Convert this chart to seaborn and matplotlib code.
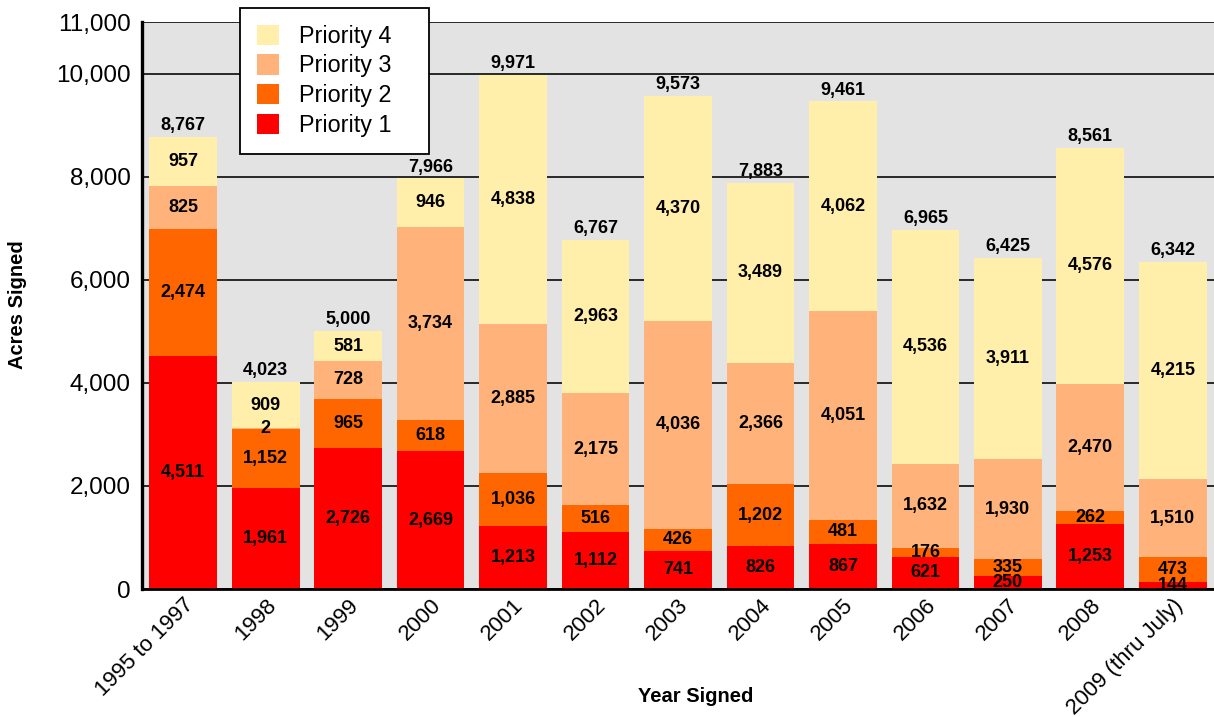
import numpy as np
import pandas as pd
import matplotlib
matplotlib.use("Agg")
import matplotlib.pyplot as plt
import seaborn as sns
from matplotlib.patches import Patch

categories = ["1995 to 1997", "1998", "1999", "2000", "2001", "2002", "2003",
              "2004", "2005", "2006", "2007", "2008", "2009 (thru July)"]
priority1 = [4511, 1961, 2726, 2669, 1213, 1112, 741, 826, 867, 621, 250, 1253, 144]
priority2 = [2474, 1152, 965, 618, 1036, 516, 426, 1202, 481, 176, 335, 262, 473]
priority3 = [825, 2, 728, 3734, 2885, 2175, 4036, 2366, 4051, 1632, 1930, 2470, 1510]
priority4 = [957, 909, 581, 946, 4838, 2963, 4370, 3489, 4062, 4536, 3911, 4576, 4215]
totals = [8767, 4023, 5000, 7966, 9971, 6767, 9573, 7883, 9461, 6965, 6425, 8561, 6342]
yticks = [0, 2000, 4000, 6000, 8000, 10000, 11000]

series_names = ["Priority 1", "Priority 2", "Priority 3", "Priority 4"]
series = [priority1, priority2, priority3, priority4]
colors = ["#FF0000", "#FF6600", "#FFB27A", "#FFEFAA"]

sns.set_theme(style="white")
plt.rcParams['font.family'] = ['Liberation Sans', 'DejaVu Sans']
plt.rcParams['text.color'] = 'black'
plt.rcParams['axes.labelcolor'] = 'black'
plt.rcParams['xtick.color'] = 'black'
plt.rcParams['ytick.color'] = 'black'

fig = plt.figure(figsize=(12.14, 7.17), dpi=100)
ax = fig.add_axes([142/1214, 1 - 589/717, 1 - 142/1214, (589 - 22)/717])
ax.set_facecolor("#E3E3E3")

arr = np.array(series, dtype=float)
cum = np.cumsum(arr, axis=0)

# draw cumulative bars from top layer to bottom so they stack visually
for i in range(3, -1, -1):
    df = pd.DataFrame({"cat": categories, "val": cum[i]})
    sns.barplot(data=df, x="cat", y="val", color=colors[i], width=0.82,
                saturation=1, ax=ax, zorder=2, linewidth=0, order=categories)

# segment labels
for i in range(4):
    bottoms = cum[i] - arr[i]
    for j in range(len(categories)):
        ax.text(j, bottoms[j] + arr[i][j] / 2, f"{series[i][j]:,}",
                ha="center", va="center", fontsize=13, fontweight="bold",
                color="black", zorder=5)

# totals
for j in range(len(categories)):
    ax.annotate(f"{totals[j]:,}", (j, cum[3][j]), xytext=(0, 2),
                textcoords="offset points", ha="center", va="bottom",
                fontsize=13, fontweight="bold", color="black", zorder=5)

ax.set_ylim(0, 11000)
ax.set_xlim(-0.5, len(categories) - 0.5)
ax.set_yticks(yticks)
ax.set_yticklabels([f"{v:,}" for v in yticks], fontsize=17.5, color="black")
ax.set_axisbelow(True)
for v in yticks:
    ax.axhline(v, color="#1a1a1a", lw=1.3, zorder=1)

ax.set_xticks(range(len(categories)))
ax.set_xticklabels(categories, rotation=45, ha="right", rotation_mode="anchor",
                   fontsize=16, color="black")
ax.tick_params(axis="x", length=0, pad=4)
ax.tick_params(axis="y", length=0, pad=8)

ax.set_xlabel("Year Signed", fontsize=14.5, fontweight="bold", color="black")
ax.xaxis.set_label_coords((696 - 142) / 1072, (589 - 697) / 567)
ax.xaxis.label.set_va("center")
ax.set_ylabel("Acres Signed", fontsize=14.5, fontweight="bold", color="black")
ax.yaxis.set_label_coords((18 - 142) / 1072, (589 - 305) / 567)
ax.yaxis.label.set_va("center")

for s in ["top", "right"]:
    ax.spines[s].set_visible(False)
ax.spines["left"].set_color("black")
ax.spines["left"].set_linewidth(2.4)
ax.spines["bottom"].set_color("black")
ax.spines["bottom"].set_linewidth(2.0)
ax.spines["left"].set_zorder(6)
ax.spines["bottom"].set_zorder(6)

handles = [Patch(facecolor=colors[i], edgecolor="none", label=series_names[i])
           for i in range(3, -1, -1)]
leg = ax.legend(handles=handles, loc="upper left",
                bbox_to_anchor=((240 - 142) / 1072, (589 - 8) / 567,
                                189 / 1072, 0),
                mode="expand",
                fontsize=16.8, frameon=True, fancybox=False, framealpha=1,
                edgecolor="black", handlelength=0.95, handleheight=0.95,
                labelspacing=0.28, borderpad=0.72, handletextpad=0.85,
                borderaxespad=0)
leg.get_frame().set_linewidth(1.3)
leg.set_zorder(10)

fig.savefig("out.png", dpi=100, facecolor="white")
